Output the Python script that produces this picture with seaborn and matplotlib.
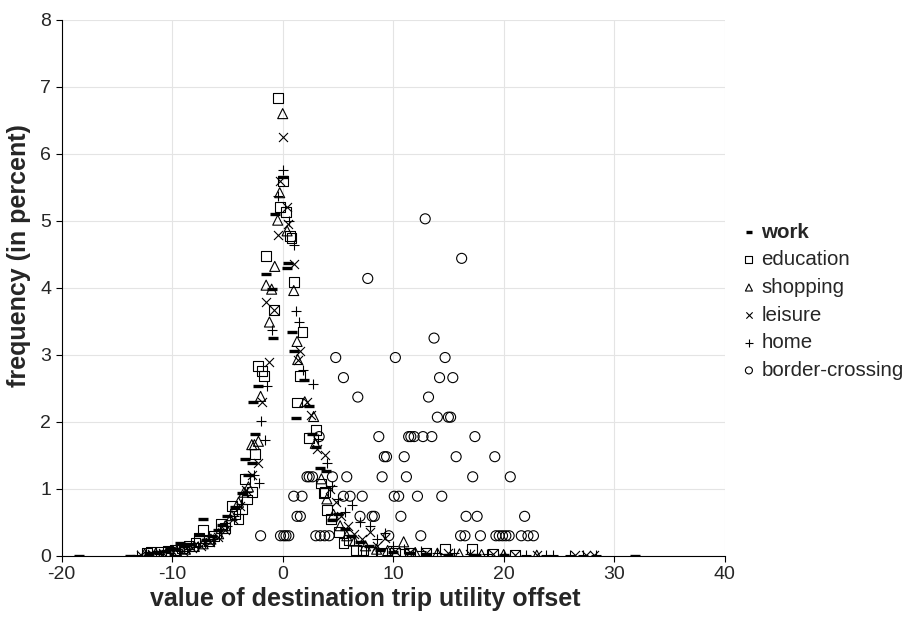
import matplotlib
matplotlib.use('Agg')
import matplotlib.pyplot as plt
import seaborn as sns

# work (dash markers)
work_x = [-18.4, -13.8, -12.1, -11.4, -10.6, -10.2, -9.8, -9.3, -8.9, -8.4, -7.6, -7.2, -6.9, -6.4,
          -5.9, -5.5, -5.0, -4.3, -3.7, -3.4, -3.1, -2.8, -2.7, -2.5, -2.2, -1.5, -1.0, -0.9, -0.7,
          0.0, 0.4, 0.5, 0.8, 1.0, 1.2, 1.9, 2.35, 2.65, 3.0, 3.4, 3.9, 4.5, 5.0, 5.6, 6.2, 7.0,
          7.8, 8.8, 10.0, 11.5, 13.0, 15.0, 17.5, 20.0, 31.9]
work_y = [0.0, 0.0, 0.04, 0.06, 0.07, 0.12, 0.10, 0.19, 0.14, 0.18, 0.31, 0.55, 0.24, 0.30,
          0.38, 0.46, 0.60, 0.73, 0.94, 1.44, 1.20, 1.38, 2.29, 1.82, 2.53, 4.21, 3.98, 3.25, 5.10,
          5.65, 4.30, 4.37, 3.34, 3.05, 2.05, 2.63, 2.23, 1.82, 1.63, 1.31, 1.26, 0.54, 0.62, 0.40,
          0.30, 0.20, 0.14, 0.09, 0.06, 0.04, 0.03, 0.02, 0.02, 0.01, 0.0]

# education (squares)
edu_x = [-12.3, -11.9, -11.0, -10.4, -9.8, -9.1, -8.5, -7.9, -7.6, -7.2, -6.7, -6.2, -5.6, -5.2,
         -4.6, -4.3, -4.0, -3.7, -3.4, -3.2, -2.8, -2.5, -2.2, -1.9, -1.7, -1.5, -0.75, -0.45,
         -0.27, 0.0, 0.27, 0.63, 0.8, 1.0, 1.3, 1.6, 1.8, 2.35, 3.0, 3.5, 3.7, 3.8, 4.0, 4.4, 5.1,
         5.5, 6.0, 6.6, 7.3, 8.0, 9.0, 10.2, 11.5, 13.0, 14.7, 17.1, 19.0, 21.0]
edu_y = [0.04, 0.06, 0.06, 0.07, 0.09, 0.12, 0.15, 0.20, 0.27, 0.38, 0.22, 0.30, 0.48, 0.42,
         0.74, 0.62, 0.55, 0.70, 1.15, 0.84, 0.95, 1.52, 2.83, 2.76, 2.68, 4.47, 3.67, 6.83,
         5.21, 5.60, 5.13, 4.77, 4.74, 4.09, 2.29, 2.68, 3.34, 1.76, 1.88, 1.08, 0.94, 0.95, 0.69,
         0.55, 0.36, 0.19, 0.24, 0.09, 0.08, 0.06, 0.05, 0.04, 0.05, 0.04, 0.10, 0.10, 0.03, 0.02]

# shopping (triangles)
shop_x = [-12.5, -11.5, -10.5, -9.6, -8.8, -8.0, -7.2, -6.5, -5.8, -5.2, -4.6, -4.0, -3.5, -3.1,
          -2.8, -2.56, -2.2, -2.0, -1.5, -1.2, -1.0, -0.72, -0.45, -0.27, 0.0, 0.4, 1.0, 1.3,
          1.36, 2.0, 2.8, 2.95, 3.5, 4.0, 4.6, 5.2, 5.8, 6.5, 7.5, 8.5, 9.5, 10.95, 12.0, 14.0,
          16.0, 18.0, 20.0, 23.0]
shop_y = [0.03, 0.04, 0.05, 0.07, 0.10, 0.14, 0.18, 0.25, 0.33, 0.45, 0.60, 0.80, 0.95, 1.03,
          1.66, 1.66, 1.71, 2.38, 4.04, 3.49, 3.98, 4.32, 5.01, 5.42, 6.60, 4.85, 3.96, 3.20,
          2.93, 2.30, 2.08, 1.68, 1.15, 0.85, 0.62, 0.45, 0.30, 0.22, 0.15, 0.10, 0.08, 0.21, 0.05,
          0.04, 0.03, 0.02, 0.02, 0.01]

# leisure (crosses)
leis_x = [-12.8, -11.8, -10.8, -9.9, -9.0, -8.2, -7.4, -6.6, -5.9, -5.2, -4.5, -3.9, -3.3, -2.8,
          -2.24, -1.87, -1.47, -1.2, -0.75, -0.45, -0.27, 0.0, 0.4, 0.45, 1.0, 1.36, 1.6, 2.2,
          2.6, 3.1, 3.86, 4.3, 4.8, 5.3, 5.9, 6.5, 7.2, 7.9, 8.5, 9.3, 10.2, 11.5, 13.0, 15.0,
          17.0, 19.0, 21.0, 23.0, 26.5, 27.5, 28.2]
leis_y = [0.02, 0.03, 0.04, 0.06, 0.08, 0.11, 0.15, 0.21, 0.28, 0.38, 0.55, 0.75, 0.98, 1.20,
          1.38, 2.29, 3.79, 2.89, 3.67, 4.79, 5.60, 6.25, 5.21, 4.96, 4.36, 2.93, 3.05, 2.29,
          2.10, 1.60, 1.51, 1.00, 0.80, 0.60, 0.45, 0.32, 0.25, 0.36, 0.15, 0.26, 0.08, 0.06, 0.05,
          0.04, 0.03, 0.03, 0.02, 0.02, 0.02, 0.02, 0.02]

# home (plus)
home_x = [-13.2, -12.2, -11.2, -10.2, -9.3, -8.5, -7.7, -7.0, -6.3, -5.6, -5.0, -4.4, -3.8, -3.2,
          -2.6, -2.17, -2.0, -1.63, -1.42, -0.93, -0.45, 0.0, 0.6, 1.0, 1.24, 1.5, 1.81, 2.74,
          3.2, 4.0, 4.5, 5.0, 5.6, 6.3, 7.0, 7.9, 8.5, 9.3, 10.0, 11.0, 12.5, 14.0, 15.5, 17.0,
          18.5, 20.0, 22.0, 23.8, 24.5, 26.0, 27.2, 28.4]
home_y = [0.01, 0.02, 0.03, 0.05, 0.07, 0.10, 0.14, 0.19, 0.25, 0.34, 0.45, 0.60, 0.78, 0.95,
          1.20, 1.08, 2.02, 1.73, 2.54, 3.37, 5.37, 5.76, 5.00, 4.64, 3.66, 3.49, 2.78, 2.56,
          1.75, 1.38, 1.05, 0.85, 0.65, 0.76, 0.50, 0.44, 0.25, 0.34, 0.15, 0.10, 0.07, 0.05, 0.04,
          0.03, 0.03, 0.02, 0.02, 0.02, 0.01, 0.02, 0.01, 0.01]

# border-crossing (circles)
bc_x = [-2.0, -0.2, 0.1, 0.3, 0.55, 3.0, 3.4, 3.8, 4.2, 9.6, 12.5, 16.1, 16.5, 17.9, 19.3, 19.6,
        19.9, 20.2, 20.5, 21.6, 22.2, 22.7,
        1.3, 1.6, 7.0, 8.1, 8.3, 10.7, 16.6, 17.6, 21.9,
        1.0, 1.75, 5.5, 6.1, 7.2, 10.1, 10.5, 12.2, 14.4,
        2.2, 2.4, 2.7, 4.5, 5.8, 9.0, 11.2, 17.2, 20.6,
        9.2, 9.4, 11.0, 15.7, 19.2,
        3.3, 8.7, 11.4, 11.6, 11.9, 12.7, 13.5, 17.4,
        14.0, 15.0, 15.2,
        6.8, 13.2,
        5.5, 14.2, 15.4,
        4.8, 10.2, 14.7,
        13.7, 7.7, 16.2, 12.9]
bc_y = [0.30, 0.30, 0.30, 0.30, 0.30, 0.30, 0.30, 0.30, 0.30, 0.30, 0.30, 0.30, 0.30, 0.30, 0.30, 0.30,
        0.30, 0.30, 0.30, 0.30, 0.30, 0.30,
        0.59, 0.59, 0.59, 0.59, 0.59, 0.59, 0.59, 0.59, 0.59,
        0.89, 0.89, 0.89, 0.89, 0.89, 0.89, 0.89, 0.89, 0.89,
        1.18, 1.18, 1.18, 1.18, 1.18, 1.18, 1.18, 1.18, 1.18,
        1.48, 1.48, 1.48, 1.48, 1.48,
        1.78, 1.78, 1.78, 1.78, 1.78, 1.78, 1.78, 1.78,
        2.07, 2.07, 2.07,
        2.37, 2.37,
        2.66, 2.66, 2.66,
        2.96, 2.96, 2.96,
        3.25, 4.14, 4.44, 5.03]

sns.set_style('white')
plt.rcParams['font.family'] = ['Liberation Sans', 'DejaVu Sans']
plt.rcParams['axes.unicode_minus'] = False

fig = plt.figure(figsize=(9.08, 6.19), dpi=100)
ax = fig.add_axes([0.068, 0.102, 0.73, 0.866])

hollow = dict(facecolor='none', edgecolor='black', linewidth=0.8)
sns.scatterplot(x=work_x, y=work_y, marker='_', s=45, color='black', linewidth=2.4, label='work', ax=ax, zorder=3)
sns.scatterplot(x=edu_x, y=edu_y, marker='s', s=50, label='education', ax=ax, zorder=3, **hollow)
sns.scatterplot(x=shop_x, y=shop_y, marker='^', s=52, label='shopping', ax=ax, zorder=3, **hollow)
sns.scatterplot(x=leis_x, y=leis_y, marker='x', s=42, color='black', linewidth=0.8, label='leisure', ax=ax, zorder=3)
sns.scatterplot(x=home_x, y=home_y, marker='+', s=52, color='black', linewidth=0.8, label='home', ax=ax, zorder=3)
sns.scatterplot(x=bc_x, y=bc_y, marker='o', s=52, label='border-crossing', ax=ax, zorder=3, **hollow)

ax.set_xlim(-20, 40)
ax.set_ylim(0, 8)
ax.set_xticks(range(-20, 41, 10))
ax.set_yticks(range(0, 9))
ax.grid(True, color='#e4e4e4', linewidth=0.8)
ax.set_axisbelow(True)
for side in ['top', 'right']:
    ax.spines[side].set_visible(False)
ax.spines['left'].set_color('black')
ax.spines['bottom'].set_color('black')
ax.tick_params(axis='both', labelsize=14, length=4, color='black', direction='out', bottom=True, left=True)
ax.set_xlabel('value of destination trip utility offset', fontsize=18, fontweight='bold')
ax.set_ylabel('frequency (in percent)', fontsize=18, fontweight='bold')
ax.xaxis.set_label_coords(0.458, -0.058)
ax.yaxis.set_label_coords(-0.046, 0.56)

leg = ax.legend(loc='center left', bbox_to_anchor=(1.015, 0.475), frameon=False, fontsize=14.8,
                handlelength=0.6, handletextpad=0.3, labelspacing=0.42, markerscale=0.7, borderaxespad=0)
leg.get_texts()[0].set_fontweight('bold')

fig.savefig('out.png', dpi=100)
